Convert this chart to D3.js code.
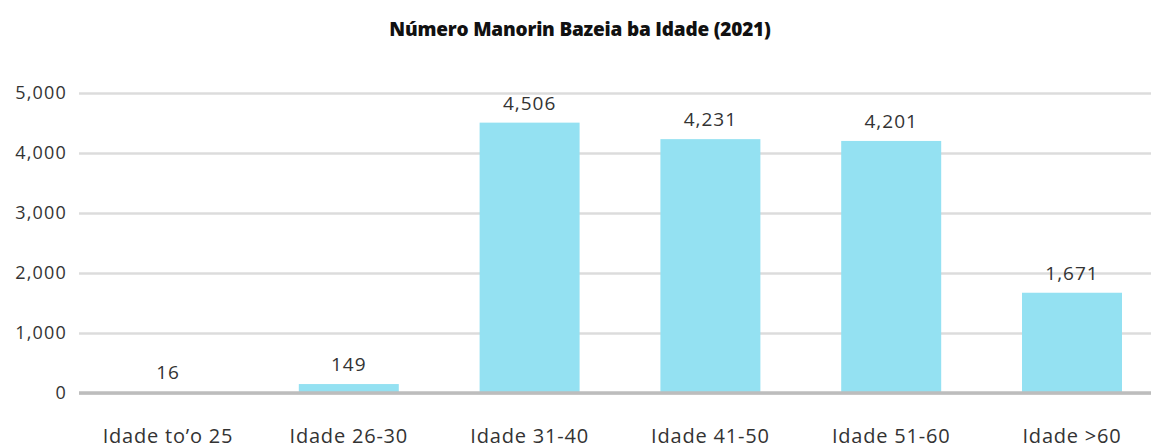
<!DOCTYPE html>
<html><head><meta charset="utf-8">
<script src="https://cdn.jsdelivr.net/npm/d3@7"></script>
<style>body{margin:0;background:#fff}text{font-family:"Open Sans",sans-serif}</style>
</head><body>
<svg id="c" width="1151" height="448"></svg>
<script>
const categories = ["Idade to’o 25","Idade 26-30","Idade 31-40","Idade 41-50","Idade 51-60","Idade >60"];
const values = [16,149,4506,4231,4201,1671];
const yTicks = [0,1000,2000,3000,4000,5000];
const title = "Número Manorin Bazeia ba Idade (2021)";

const svg = d3.select("#c");
const x = d3.scaleBand().domain(categories).range([77.6,1162.4]).paddingInner(0.447).paddingOuter(0.2235);
const y = d3.scaleLinear().domain([0,5000]).range([393,93]);
const fmt = d3.format(",");

svg.append("text").attr("x",580).attr("y",36).attr("text-anchor","middle")
  .attr("font-size",19).attr("font-weight",800).attr("fill","#111").attr("letter-spacing",-0.2).text(title);

const yAxis = svg.append("g").attr("transform","translate(79,0)")
  .call(d3.axisLeft(y).tickValues(yTicks).tickFormat(fmt).tickSize(-1072).tickPadding(12));
yAxis.select(".domain").remove();
yAxis.selectAll(".tick line").attr("stroke","#dcdcdc").attr("stroke-width",2.5);
yAxis.selectAll(".tick text").attr("font-size",18).attr("fill","#333").attr("letter-spacing",1.2)
  .attr("font-family","'Open Sans',sans-serif");

svg.selectAll("rect.bar").data(values).enter().append("rect").attr("class","bar")
  .attr("x",(d,i)=>x(categories[i])).attr("width",x.bandwidth())
  .attr("y",d=>y(d)).attr("height",d=>y(0)-y(d)).attr("fill","#94e1f2");

svg.append("line").attr("x1",79).attr("x2",1151).attr("y1",y(0)).attr("y2",y(0))
  .attr("stroke","#bdbdbd").attr("stroke-width",3.5);

svg.selectAll("text.val").data(values).enter().append("text").attr("class","val")
  .attr("x",(d,i)=>x(categories[i])+x.bandwidth()/2).attr("y",d=>Math.min(y(d),392)-13)
  .attr("text-anchor","middle").attr("font-size",19).attr("letter-spacing",1).attr("fill","#333").text(d=>fmt(d));

const xAxis = svg.append("g").attr("transform","translate(0,393)")
  .call(d3.axisBottom(x).tickSize(0).tickPadding(36));
xAxis.select(".domain").remove();
xAxis.selectAll(".tick text").attr("font-size",20).attr("fill","#333").attr("letter-spacing",0.8)
  .attr("font-family","'Open Sans',sans-serif");
</script>
</body></html>
